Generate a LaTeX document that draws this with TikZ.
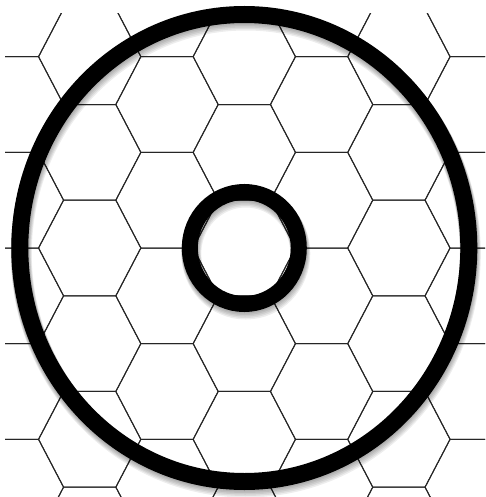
\documentclass[tikz,border=0pt]{standalone}
\begin{document}
\begin{tikzpicture}[x=1pt,y=-1pt,
  gridline/.style={line width=1pt,draw=black!85},
  ring/.style={draw=black},
  ringshadow/.style={draw=black,opacity=0.07}]
\useasboundingbox[fill=white] (0,0) rectangle (485,497);
\def\cx{244.3}\def\cy{248}
\def\hd{77.3}\def\hv{47.83}\def\hw{51.15}\def\he{26.15}
\begin{scope}
\clip (5,14) rectangle (485,497);
\foreach \i in {-4,...,4}{
  \pgfmathsetmacro{\hpar}{mod(abs(\i),2)}
  \foreach \j in {-3,...,3}{
    \pgfmathsetmacro{\hx}{\cx+\hd*\i}
    \pgfmathsetmacro{\hy}{\cy+\hv*(2*\j+\hpar)}
    \draw[gridline] (\hx-\hw,\hy) -- (\hx-\he,\hy-\hv) -- (\hx+\he,\hy-\hv)
      -- (\hx+\hw,\hy) -- (\hx+\he,\hy+\hv) -- (\hx-\he,\hy+\hv) -- cycle;
  }
}
\end{scope}
% soft shadows
\foreach \k in {1,...,5}{
  \draw[ringshadow,line width={17+0.8*\k}] (\cx+0.3*\k,\cy+1.1*\k) ellipse [x radius=224.5, y radius=233.5];
  \draw[ringshadow,line width={16+0.8*\k}] (\cx+0.3*\k,\cy+1.1*\k) ellipse [x radius=54.5, y radius=56];
}
\draw[ring,line width=17] (\cx,\cy) ellipse [x radius=224.5, y radius=233.5];
\draw[ring,line width=16] (\cx,\cy) ellipse [x radius=54.5, y radius=56];
\end{tikzpicture}
\end{document}
